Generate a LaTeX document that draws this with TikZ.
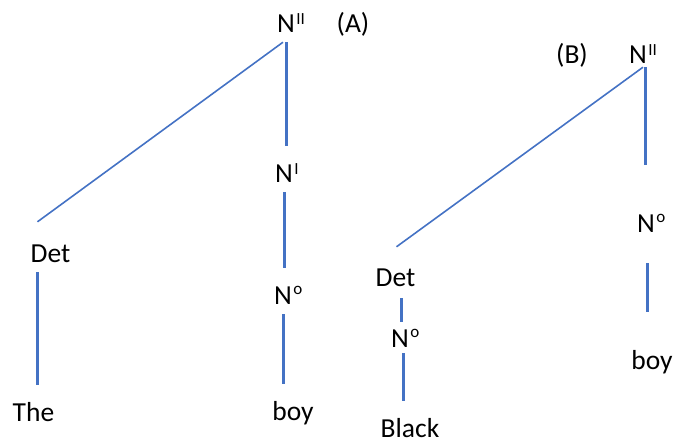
\documentclass[tikz,border=0pt]{standalone}
\usepackage{fontspec}
\setmainfont{Carlito}
\usepackage{tikz}
\definecolor{TreeBlue}{HTML}{4472C4}
% small raised mark after N, kept out of the node width
\newcommand{\hi}[2][8pt]{\rlap{\kern1.5pt\raisebox{#1}{\fontsize{17}{17}\selectfont #2}}}
\tikzset{
    % Category / word label
    catnode/.style={
        inner sep=0pt,
        text height=36pt,
        text depth=10pt,
        anchor=base,
        font=\fontsize{27.5}{33}\selectfont
    },
    % Vertical branch
    branch/.style={
        draw=TreeBlue,
        line width=3pt
    },
    % Slanted branch
    slantbranch/.style={
        draw=TreeBlue,
        line width=1.6pt
    }
}
\begin{document}
\begin{tikzpicture}[x=1pt, y=-1pt]
        \useasboundingbox (0,0) rectangle (679,442);

        % Tree (A)
        \node[catnode] (aNII) at (286,32) {N\hi{II}};
        \node[catnode] (aTag) at (353,32) {(A)};
        \node[catnode] (aNI) at (284,182) {N\hi{I}};
        \node[catnode] (aNo) at (283,304) {N\hi[9.5pt]{o}};
        \node[catnode] (aBoy) at (293,420) {boy};
        \node[catnode] (aDet) at (50.5,262) {Det};
        \node[catnode] (aThe) at (33.5,421) {The};

        \draw[slantbranch] ([xshift=-3pt]aNII.south) -- ([xshift=7pt,yshift=4pt]aDet.north west);
        \draw[branch] (aNII.south) -- (aNII.south |- aNI.north);
        \draw[branch] (aNI.south) -- (aNI.south |- aNo.north);
        \draw[branch] (aNo.south) -- (aNo.south |- aBoy.north);
        \draw[branch] ([xshift=7pt]aDet.south west) -- ([xshift=7pt]aDet.south west |- aThe.north);

        % Tree (B)
        \node[catnode] (bTag) at (572,63) {(B)};
        \node[catnode] (bNII) at (638,63) {N\hi{II}};
        \node[catnode] (bNo) at (646,232) {N\hi[9.5pt]{o}};
        \node[catnode] (bBoy) at (652,369) {boy};
        \node[catnode] (bDet) at (395.5,286) {Det};
        \node[catnode] (bNoDet) at (400,347) {N\hi[9.5pt]{o}};
        \node[catnode, text depth=0pt] (bBlack) at (410,437) {Black};

        \draw[slantbranch] ([xshift=5pt,yshift=6pt]bNII.south) -- ([xshift=21pt,yshift=3pt]bDet.north west);
        \draw[branch, shorten >=25pt] ([xshift=7pt,yshift=6pt]bNII.south) -- ([xshift=7pt,yshift=6pt]bNII.south |- bNo.north);
        \draw[branch, shorten <=21pt, shorten >=21pt] ([xshift=1pt]bNo.south) -- ([xshift=1pt]bNo.south |- bBoy.north);
        \draw[branch, shorten <=2pt, shorten >=-11pt] ([xshift=26pt]bDet.south west) -- ([xshift=26pt]bDet.south west |- bNoDet.north);
        \draw[branch, shorten <=-4pt] ([xshift=3pt]bNoDet.south) -- ([xshift=3pt]bNoDet.south |- bBlack.north);
    \end{tikzpicture}
\end{document}
